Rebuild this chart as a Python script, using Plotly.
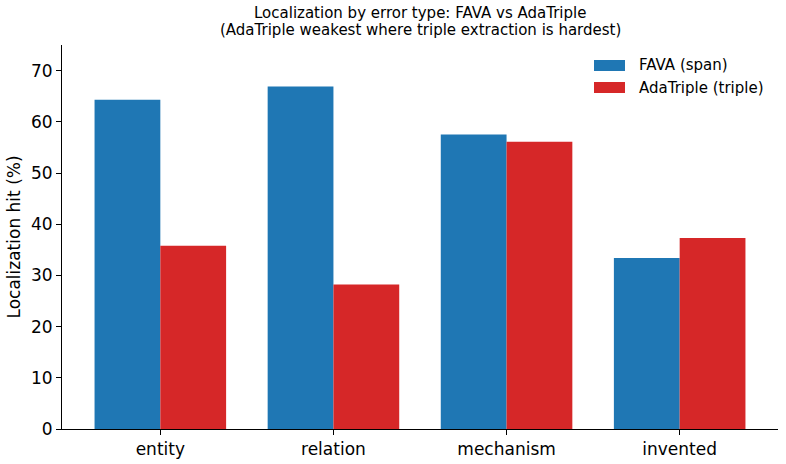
import plotly.graph_objects as go

categories = ["entity", "relation", "mechanism", "invented"]
fava_span = [64.3, 66.9, 57.5, 33.4]
adatriple_triple = [35.8, 28.2, 56.1, 37.3]
y_ticks = [0, 10, 20, 30, 40, 50, 60, 70]
series_names = ["FAVA (span)", "AdaTriple (triple)"]
series_colors = ["#1f77b4", "#d62728"]

font = "DejaVu Sans, sans-serif"
W, H = 786, 464
L, R, T, B = 62, 8, 45, 35

fig = go.Figure()
for name, vals, col in zip(series_names, [fava_span, adatriple_triple], series_colors):
    fig.add_trace(go.Bar(x=categories, y=vals, name=name,
                         marker=dict(color=col, line=dict(width=0)), showlegend=False))

# title as annotations (pixel control)
title_lines = ["Localization by error type: FAVA vs AdaTriple",
               "(AdaTriple weakest where triple extraction is hardest)"]
cx = (L + (W - R)) / 2 / W
for i, line in enumerate(title_lines):
    fig.add_annotation(text=line, xref="paper", yref="paper",
                       x=(cx * W - L) / (W - L - R), y=(H - B - (13 + 17 * i)) / (H - T - B),
                       xanchor="center", yanchor="middle", showarrow=False,
                       font=dict(size=15, family=font, color="black"))

# legend drawn with shapes + text
def px_x(p):
    return (p - L) / (W - L - R)

def px_y(p):
    return (H - B - p) / (H - T - B)

for i, (name, col) in enumerate(zip(series_names, series_colors)):
    y0, y1 = 60 + 22 * i, 71 + 22 * i
    fig.add_shape(type="rect", xref="paper", yref="paper",
                  x0=px_x(594), x1=px_x(625), y0=px_y(y1), y1=px_y(y0),
                  fillcolor=col, line=dict(width=0))
    fig.add_annotation(text=name, xref="paper", yref="paper",
                       x=px_x(637), y=px_y((y0 + y1) / 2), xanchor="left", yanchor="middle",
                       showarrow=False, font=dict(size=15, family=font, color="black"))

fig.update_layout(
    width=W, height=H,
    margin=dict(l=L, r=R, t=T, b=B, autoexpand=False),
    paper_bgcolor="white", plot_bgcolor="white",
    barmode="group", bargap=0.24, bargroupgap=0,
    font=dict(family=font, color="black"),
    showlegend=False,
)
fig.update_xaxes(range=[-0.568, 3.568], showline=True, linecolor="black", linewidth=1,
                 ticks="outside", ticklen=5, tickcolor="black", automargin=False,
                 tickfont=dict(size=17, family=font), showgrid=False, zeroline=False)
fig.update_yaxes(range=[0, 75], tickvals=y_ticks, showline=True, linecolor="black", linewidth=1,
                 ticks="outside", ticklen=5, tickcolor="black", automargin=False,
                 tickfont=dict(size=17, family=font), showgrid=False, zeroline=False,
                 title=dict(text="Localization hit (%)", font=dict(size=17, family=font), standoff=6))

fig.write_html("out.html")
